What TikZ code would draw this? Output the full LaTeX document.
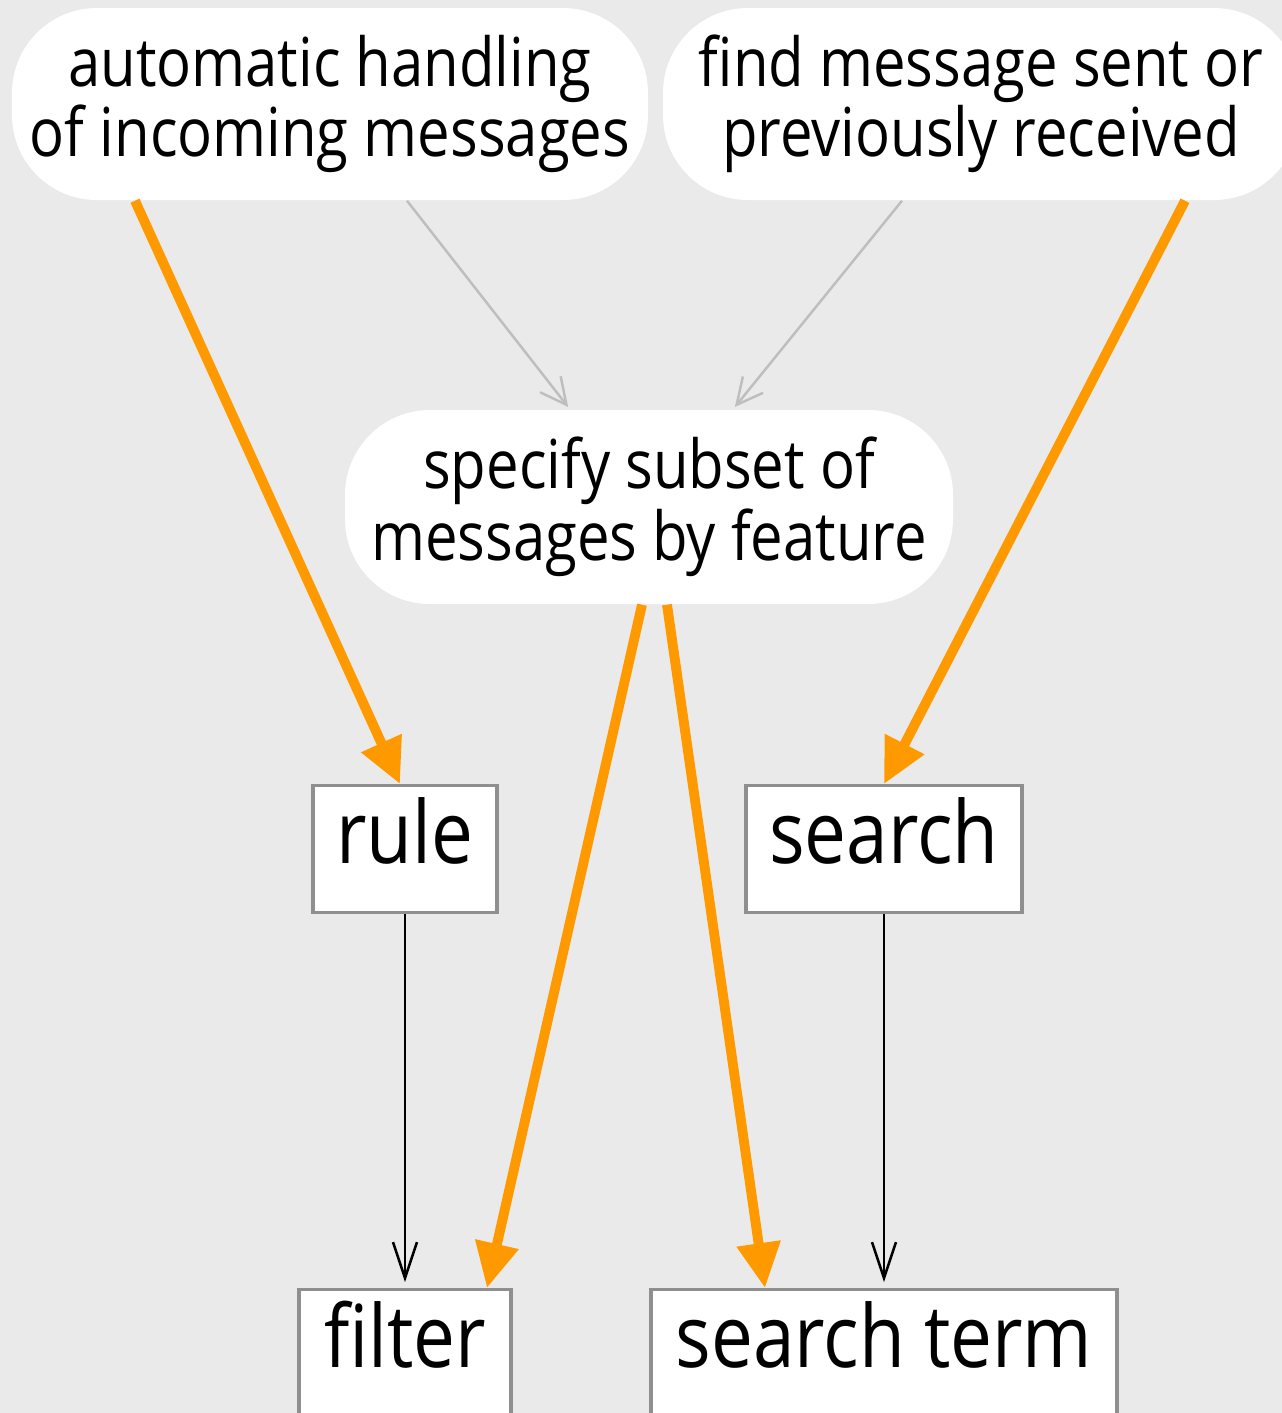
\documentclass[tikz,border=0pt]{standalone}
\usepackage{fontspec}
\setmainfont{Open Sans}[FakeStretch=0.86]
\usetikzlibrary{arrows.meta,calc}
\definecolor{bg}{HTML}{EAEAEA}
\definecolor{flow}{HTML}{FF9900}
\definecolor{faint}{HTML}{BEBEBE}
\definecolor{frame}{HTML}{8F8F8F}
\begin{document}
\begin{tikzpicture}[
  goal/.style={rectangle, rounded corners=0.85cm, fill=white, draw=none,
    minimum width=6.36cm, minimum height=1.92cm, inner sep=0pt, align=center,
    font=\fontsize{19.2pt}{20pt}\selectfont},
  thing/.style={rectangle, fill=white, draw=frame, line width=0.9pt,
    inner xsep=0pt, inner ysep=0pt, text height=0.78cm, text depth=0.49cm,
    anchor=north, font=\fontsize{24.7pt}{26pt}\selectfont},
  strong/.style={draw=flow, line width=2.8pt, -{Triangle[length=0.45cm,width=0.42cm]}},
  weak/.style={draw=faint, line width=0.7pt, -{Straight Barb[length=0.26cm,width=0.26cm,line width=0.7pt]}, shorten >=0.03cm},
  plain/.style={draw=black, line width=0.7pt, -{Straight Barb[length=0.36cm,width=0.24cm,line width=0.7pt]}, shorten >=0.06cm},
]
\useasboundingbox (0,0) rectangle (12.82,-14.13);
\fill[bg] (0,0) rectangle (12.82,-14.13);
\clip (0,0) rectangle (12.82,-14.13);

% goals
\node[goal] (auto) at (3.30,-1.04) {automatic handling\\of incoming messages};
\node[goal] (find) at (9.81,-1.04) {find message sent or\\previously received};
\node[goal, minimum width=6.08cm, minimum height=1.94cm,
      font=\fontsize{19.2pt}{20.5pt}\selectfont] (subset) at (6.49,-5.07)
      {specify subset of\\messages by feature};

% concepts
\node[thing, minimum width=1.84cm] (rule) at (4.05,-7.84) {rule};
\node[thing, minimum width=2.76cm] (search) at (8.84,-7.84) {search};
\node[thing, minimum width=2.12cm] (filter) at (4.05,-12.88) {filter};
\node[thing, minimum width=4.66cm] (term) at (8.84,-12.88) {search term};

% purpose links
\draw[strong] ([xshift=-1.95cm]auto.south) -- ([xshift=-0.05cm]rule.north);
\draw[strong] ([xshift=2.04cm]find.south) -- (search.north);
\draw[strong] ([xshift=-0.07cm]subset.south) -- ([xshift=0.82cm]filter.north);
\draw[strong] ([xshift=0.18cm]subset.south) -- ([xshift=-1.19cm]term.north);

% goal refinement
\draw[weak] ([xshift=0.77cm]auto.south) -- ([xshift=-0.79cm]subset.north);
\draw[weak] ([xshift=-0.79cm]find.south) -- ([xshift=0.84cm]subset.north);

% concept dependencies
\draw[plain] (rule.south) -- (filter.north);
\draw[plain] (search.south) -- (term.north);
\end{tikzpicture}
\end{document}
